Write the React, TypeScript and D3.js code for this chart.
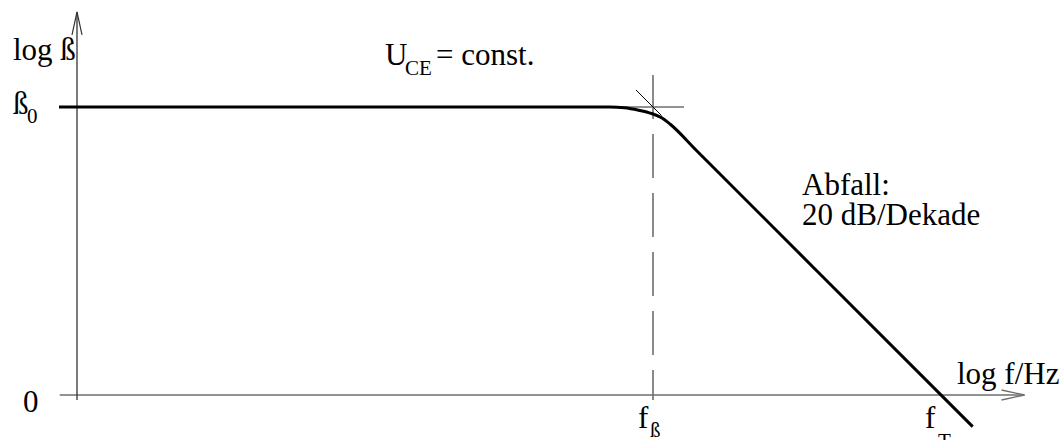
import React from "react";
import * as d3 from "d3";

// Bode magnitude sketch of a transistor's current gain: log β over log f.
// All values are in decades (log10 units).
const LOG_F_AXIS: [number, number] = [-0.12, 6.58]; // horizontal axis extent
const LOG_BETA_AXIS: [number, number] = [-0.035, 2.66]; // vertical axis extent

const LOG_BETA0 = 2; // β0 = 100
const LOG_F_BETA = 4; // corner frequency fβ
const LOG_F_T = 6; // transit frequency fT (β = 1)

// Gain curve, read as (log f, log β) points
const curveLogF = [-0.125, 3.7, 3.8, 3.9, 3.99, 4.06, 4.12, 4.3, 6.22];
const curveLogBeta = [2, 2, 1.995, 1.978, 1.955, 1.925, 1.88, 1.7, -0.22];

// Thin construction lines around the corner
const horizAsymptote: [number, number][] = [[3.736, 2], [4.215, 2]];
const slopeAsymptote: [number, number][] = [[3.882, 2.118], [4.06, 1.94]];
const cornerMarker: [number, number][] = [[4, -0.035], [4, 2.222]];

const W = 1064;
const H = 440;

export default function App() {
  const x = d3.scaleLinear().domain([0, 6]).range([77, 941]);
  const y = d3.scaleLinear().domain([0, 2]).range([395, 107]);

  const line = d3
    .line<[number, number]>()
    .x((d) => x(d[0]))
    .y((d) => y(d[1]))
    .curve(d3.curveLinear);

  const smooth = d3
    .line<[number, number]>()
    .x((d) => x(d[0]))
    .y((d) => y(d[1]))
    .curve(d3.curveMonotoneX);

  const curvePts: [number, number][] = curveLogF.map((f, i) => [f, curveLogBeta[i]]);

  const x0 = x(0);
  const y0 = y(0);
  const xEnd = x(LOG_F_AXIS[1]);
  const yTop = y(LOG_BETA_AXIS[1]);
  const axisColor = "#6e6e6e";
  const font = '"Liberation Serif", "Times New Roman", "DejaVu Serif", serif';
  const markerMid = (y(cornerMarker[0][1]) + y(cornerMarker[1][1])) / 2;

  return (
    <svg
      width={W}
      height={H}
      style={{ position: "absolute", left: 0, top: 0, background: "#fff" }}
    >
      {/* axes */}
      <line x1={x(LOG_F_AXIS[0])} y1={y0} x2={xEnd} y2={y0} stroke={axisColor} strokeWidth={1.6} />
      <polyline
        points={`${xEnd - 23},${y0 - 5} ${xEnd},${y0} ${xEnd - 23},${y0 + 5}`}
        fill="none"
        stroke={axisColor}
        strokeWidth={1.3}
      />
      <line x1={x0} y1={y(LOG_BETA_AXIS[0])} x2={x0} y2={yTop} stroke="#333" strokeWidth={1.3} />
      <polyline
        points={`${x0 - 5},${yTop + 23} ${x0},${yTop} ${x0 + 5},${yTop + 23}`}
        fill="none"
        stroke="#333"
        strokeWidth={1.2}
      />

      {/* corner frequency marker, dashes laid out from the axis upward */}
      <path
        d={line(cornerMarker) ?? ""}
        stroke={axisColor}
        strokeWidth={1.6}
        strokeDasharray="44 15"
        fill="none"
        transform={`rotate(180 ${x(LOG_F_BETA)} ${markerMid})`}
      />

      {/* asymptotes */}
      <path d={line(horizAsymptote) ?? ""} stroke={axisColor} strokeWidth={1.6} fill="none" />
      <path d={line(slopeAsymptote) ?? ""} stroke="#000" strokeWidth={1} fill="none" />

      {/* gain curve */}
      <path d={smooth(curvePts) ?? ""} stroke="#000" strokeWidth={3} fill="none" strokeLinejoin="round" />

      {/* labels */}
      <g fill="#000" style={{ fontFamily: font, fontSize: 31 }}>
        <text x={13} y={60}>log ß</text>
        <text x={13} y={y(LOG_BETA0) + 7}>ß</text>
        <text x={27} y={y(LOG_BETA0) + 16} style={{ fontSize: 21 }}>0</text>
        <text x={23} y={y(0) + 17}>0</text>

        <text x={385} y={65}>U</text>
        <text x={405} y={75} style={{ fontSize: 21 }}>CE</text>
        <text x={436} y={65}>= const.</text>

        <text x={802} y={195}>Abfall:</text>
        <text x={802} y={225}>20 dB/Dekade</text>

        <text x={957} y={y0 - 11}>log f/Hz</text>

        <text x={x(LOG_F_BETA) - 15} y={428}>f</text>
        <text x={x(LOG_F_BETA) - 3} y={437} style={{ fontSize: 21 }}>ß</text>

        <text x={x(LOG_F_T) - 16} y={428}>f</text>
        <text x={x(LOG_F_T) - 3} y={448} style={{ fontSize: 21 }}>T</text>
      </g>
    </svg>
  );
}
